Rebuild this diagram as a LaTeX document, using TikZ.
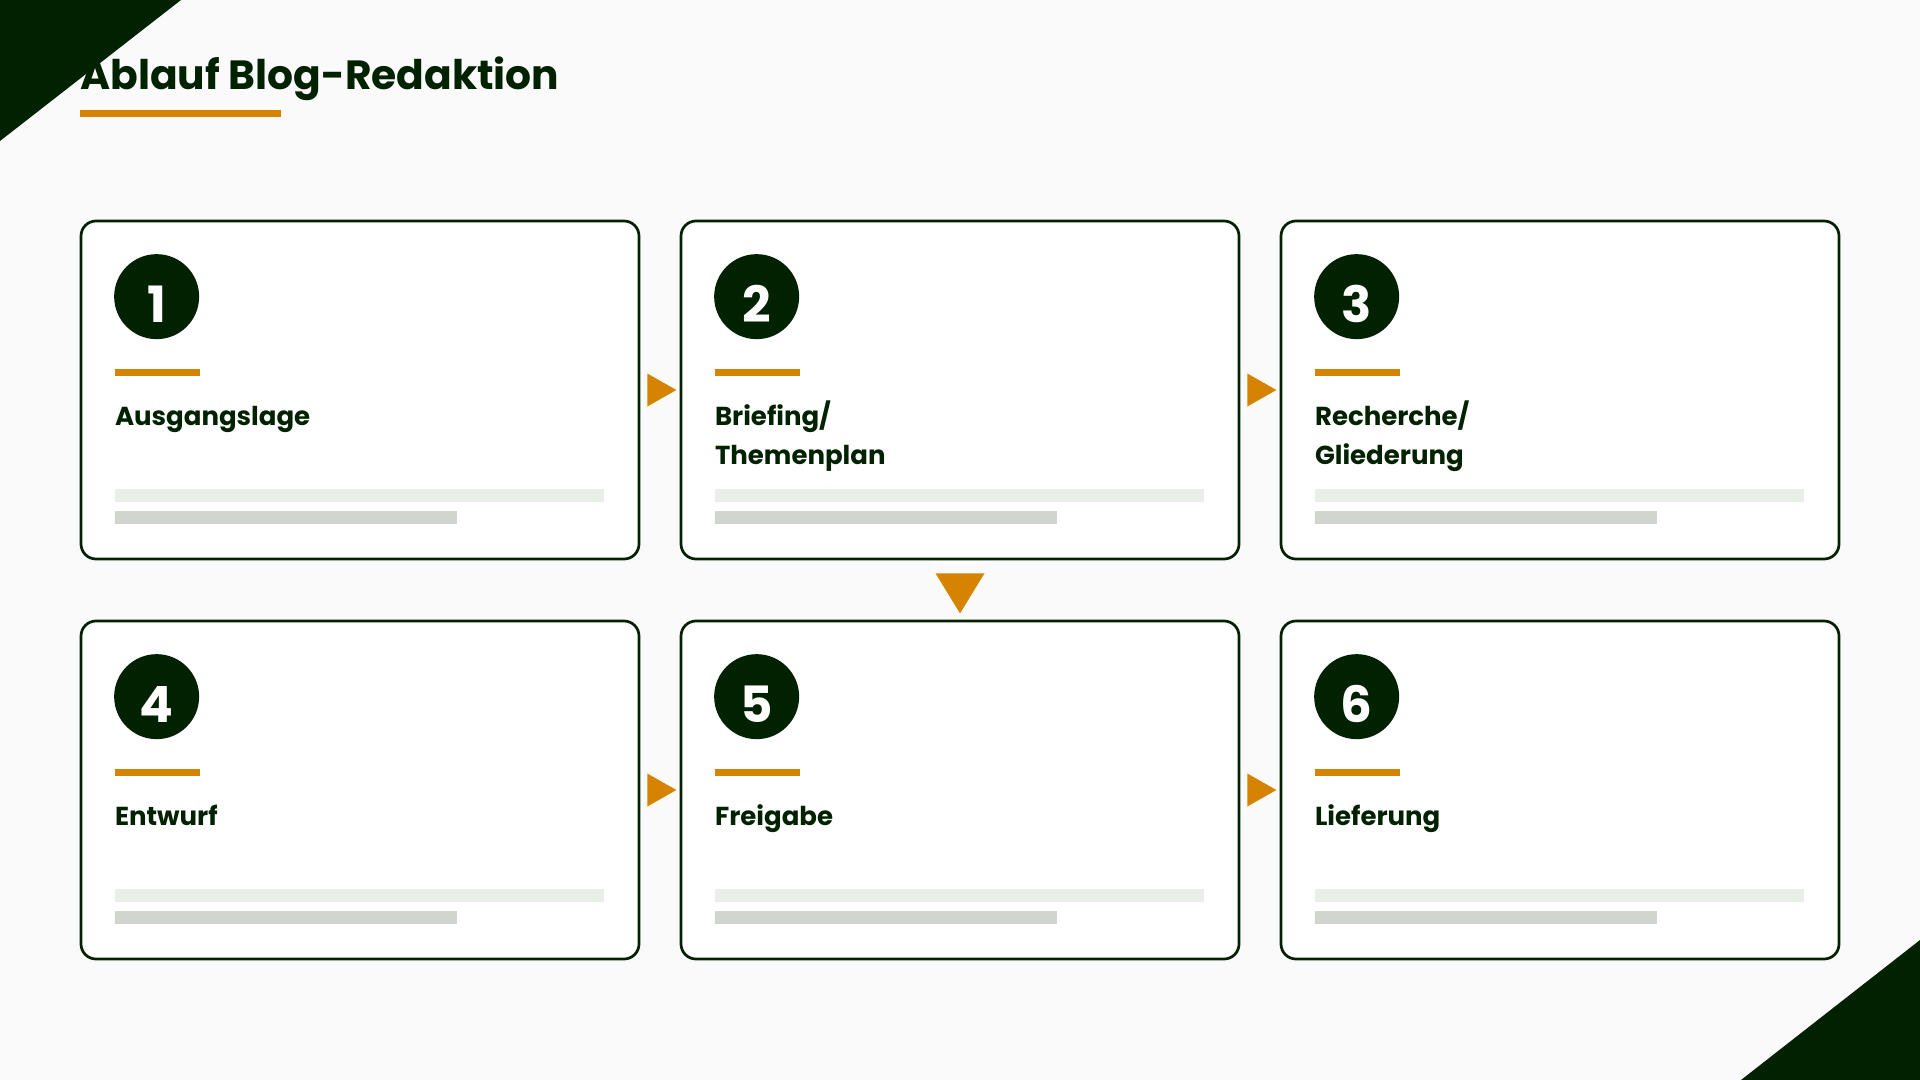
\documentclass[tikz,border=0pt]{standalone}
\usepackage{fontspec}
\setmainfont{Poppins}
\usetikzlibrary{calc}
\definecolor{dg}{HTML}{012200}
\definecolor{og}{HTML}{D58300}
\definecolor{barA}{HTML}{E8EFE6}
\definecolor{barB}{HTML}{D0D5CE}
\definecolor{bgc}{HTML}{FAFAFA}
\tikzset{
  card/.style={draw=dg, line width=1.35pt, fill=white, rounded corners=7.5pt,
    minimum width=279pt, minimum height=169pt, inner sep=0pt},
  numcirc/.style={circle, fill=dg, minimum size=42.5pt, inner sep=0pt},
  numtxt/.style={text=white, font=\fontsize{25}{25}\selectfont\bfseries, anchor=base, inner sep=0pt},
  lbl/.style={text=dg, font=\fontsize{13}{13}\selectfont\bfseries, anchor=base west, inner sep=0pt},
  ttl/.style={text=dg, font=\fontsize{20.4}{20.4}\selectfont\bfseries, anchor=base west, inner sep=0pt},
  arrowfill/.style={fill=og}
}
\newcommand\mkcard[6]{%
  \node[card] (#1) at (#2,#3) {};
  \node[numcirc] (#1n) at ($(#1.north west)+(77,77)$) {};
  \node[numtxt] (#1d) at ($(#1.north west)+(77,103)$) {#4};
  \fill[og] ($(#1.north west)+(35,149)$) rectangle ($(#1.north west)+(120,156)$);
  \node[lbl] (#1a) at ($(#1.north west)+(35,205.5)$) {#5};
  \if\relax\detokenize{#6}\relax\else
    \node[lbl] (#1b) at ($(#1.north west)+(35,245)$) {#6};
  \fi
  \fill[barA] ($(#1.north west)+(35,269)$) rectangle ($(#1.north west)+(524,282)$);
  \fill[barB] ($(#1.north west)+(35,291)$) rectangle ($(#1.north west)+(377,304)$);
}
\newcommand\rarrow[1]{%
  \fill[arrowfill] ($(#1.east)+(7,-16.5)$) -- ($(#1.east)+(36,0)$) -- ($(#1.east)+(7,16.5)$) -- cycle;
}
\begin{document}
\begin{tikzpicture}[x=0.5pt,y=-0.5pt]
\useasboundingbox (0,0) rectangle (1920,1080);
\fill[bgc] (0,0) rectangle (1920,1080);
\fill[dg] (0,0) -- (181,0) -- (0,141) -- cycle;
\fill[dg] (1920,940) -- (1920,1080) -- (1741,1080) -- cycle;
\node[ttl] (title) at (80,89.5) {Ablauf Blog-Redaktion};
\fill[og] (80,110) rectangle (281,117);
\mkcard{c1}{360}{390}{1}{Ausgangslage}{}
\mkcard{c2}{960}{390}{2}{Briefing/}{Themenplan}
\mkcard{c3}{1560}{390}{3}{Recherche/}{Gliederung}
\mkcard{c4}{360}{790}{4}{Entwurf}{}
\mkcard{c5}{960}{790}{5}{Freigabe}{}
\mkcard{c6}{1560}{790}{6}{Lieferung}{}
\rarrow{c1}
\rarrow{c2}
\rarrow{c4}
\rarrow{c5}
\fill[white] ($(c2.south)+(-30,1.4)$) rectangle ($(c2.south)+(31,4)$);
\fill[arrowfill] ($(c2.south)+(-24.5,13)$) -- ($(c2.south)+(24.5,13)$) -- ($(c2.south)+(0,53)$) -- cycle;
\end{tikzpicture}
\end{document}
